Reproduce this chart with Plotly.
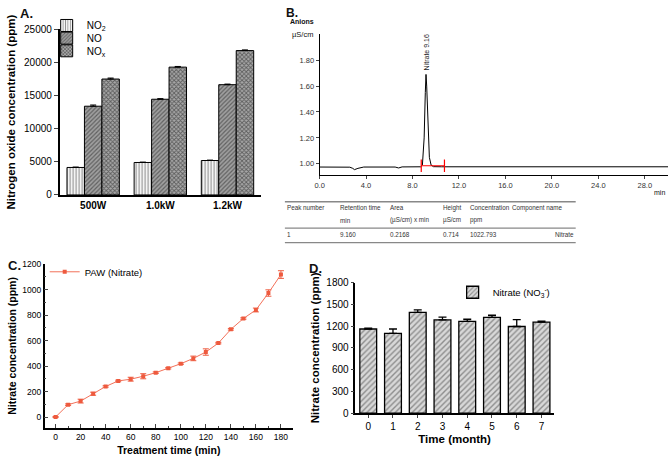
import plotly.graph_objects as go

W, H = 669, 461

# panel A: nitrogen oxides by power
powers = ["500W", "1.0kW", "1.2kW"]
no2 = [4150, 4900, 5200]
no2_err = [60, 60, 60]
no = [13400, 14450, 16650]
no_err = [180, 90, 90]
nox = [17500, 19300, 21800]
nox_err = [150, 100, 100]

# panel B: chromatogram trace
chrom_t = [0, 2.6, 2.85, 3.0, 3.3, 3.8, 6.5, 6.8, 7.1, 8.7, 8.85, 9.0, 9.1, 9.16, 9.22, 9.32, 9.45, 9.6, 9.8, 10.5, 30]
chrom_s = [0.975, 0.974, 0.965, 0.955, 0.965, 0.975, 0.975, 0.968, 0.976, 0.977, 0.99, 1.2, 1.55, 1.69, 1.6, 1.3, 1.05, 0.99, 0.978, 0.977, 0.977]
integ_t = [8.75, 10.75]
integ_s = [0.985, 0.985]
table_header = ["Peak number", "Retention time", "Area", "Height", "Concentration", "Component name"]
table_units = ["", "min", "(µS/cm) x min", "µS/cm", "ppm", ""]
table_row = ["1", "9.160", "0.2168", "0.714", "1022.793", "Nitrate"]

# panel C: nitrate vs treatment time
t_min = [0, 10, 20, 30, 40, 50, 60, 70, 80, 90, 100, 110, 120, 130, 140, 150, 160, 170, 180]
nitrate = [0, 97, 125, 183, 240, 283, 297, 320, 348, 383, 418, 460, 510, 580, 688, 773, 840, 973, 1118]
nitrate_err = [4, 6, 15, 12, 6, 6, 15, 20, 6, 6, 6, 18, 25, 6, 6, 6, 15, 25, 30]

# panel D: nitrate stability
months = [0, 1, 2, 3, 4, 5, 6, 7]
stored = [1160, 1100, 1390, 1285, 1265, 1320, 1195, 1255]
stored_err = [12, 60, 35, 40, 30, 30, 95, 15]


def X(px):
    return px / W


def Y(py):
    return 1 - py / H


fig = go.Figure()

bold = dict(family="Liberation Sans, Arial", color="black")

# ---- A (one legend per series so the rows can sit close together)
for name, vals, err, shape, fg, bg, size, sol, leg in [
    ("NO<sub>2</sub>", no2, no2_err, "|", "#222", "white", 3, 0.4, "legend"),
    ("NO", no, no_err, "/", "#222", "#a0a0a0", 3, 0.4, "legend2"),
    ("NO<sub>x</sub>", nox, nox_err, "x", "#111", "#a8a8a8", 3, 0.5, "legend3"),
]:
    fig.add_trace(go.Bar(
        x=powers, y=vals, name=name, xaxis="x", yaxis="y", legend=leg,
        marker=dict(color=bg, line=dict(color="black", width=1),
                    pattern=dict(shape=shape, fgcolor=fg, bgcolor=bg, size=size, solidity=sol)),
        error_y=dict(type="data", array=err, arrayminus=[0] * len(err), color="black", thickness=1, width=3),
    ))

# ---- B
fig.add_trace(go.Scatter(x=chrom_t, y=chrom_s, mode="lines", line=dict(color="black", width=1),
                         xaxis="x2", yaxis="y2", showlegend=False))
fig.add_trace(go.Scatter(x=integ_t, y=integ_s, mode="lines+markers", line=dict(color="red", width=1.2),
                         marker=dict(symbol="line-ns", size=9, line=dict(color="red", width=1.2)),
                         xaxis="x2", yaxis="y2", showlegend=False))

# ---- C
fig.add_trace(go.Scatter(
    x=t_min, y=nitrate, mode="lines+markers", name="PAW (Nitrate)", xaxis="x3", yaxis="y3", legend="legend4",
    line=dict(color="#f2715a", width=1), marker=dict(color="#ee5a3e", size=4, symbol="square"),
    error_y=dict(type="data", array=nitrate_err, color="#ee5a3e", thickness=1, width=3),
))

# ---- D
fig.add_trace(go.Bar(
    x=months, y=stored, name="Nitrate (NO<sub>3</sub><sup>-</sup>)", xaxis="x4", yaxis="y4", legend="legend5",
    width=0.68,
    marker=dict(color="#d0d0d0", line=dict(color="black", width=1.3),
                pattern=dict(shape="/", fgcolor="#444", bgcolor="#d8d8d8", size=4, solidity=0.35)),
    error_y=dict(type="data", array=stored_err, arrayminus=[0] * 8, color="black", thickness=1.3, width=4),
))

axis_line = dict(showline=True, linecolor="black", linewidth=1.5, mirror=False, showgrid=False, zeroline=False)
leg_a = dict(xanchor="left", yanchor="middle", bgcolor="rgba(0,0,0,0)", font=dict(size=10), itemwidth=30)

fig.update_layout(
    width=W, height=H, margin=dict(l=0, r=0, t=0, b=0),
    paper_bgcolor="white", plot_bgcolor="white",
    font=dict(family="Liberation Sans, Arial", color="black"),
    barmode="group", bargap=0.22, bargroupgap=0,
    xaxis=dict(domain=[X(55), X(258)], anchor="y", range=[-0.5, 2.5], ticks="", **axis_line,
               tickfont=dict(size=10, **bold), tickprefix="<b>", ticksuffix="</b>"),
    yaxis=dict(domain=[Y(194), Y(24)], anchor="x", range=[0, 25000], tickvals=[0, 5000, 10000, 15000, 20000, 25000],
               tickformat="d", ticks="outside", ticklen=4, **axis_line, tickfont=dict(size=10, **bold),
               tickprefix="<b>", ticksuffix="</b>",
               title=dict(text="<b>Nitrogen oxide concentration (ppm)</b>", font=dict(size=11.5), standoff=6)),
    xaxis2=dict(domain=[X(317), X(668)], anchor="y2", range=[0, 30], tickvals=[0, 4, 8, 12, 16, 20, 24, 28],
                tickformat=".1f", ticks="outside", ticklen=3, showline=True, linecolor="black", linewidth=1,
                showgrid=False, zeroline=False, tickfont=dict(size=7.5, color="#333")),
    yaxis2=dict(domain=[Y(174), Y(29)], anchor="x2", range=[0.91, 2.0], tickvals=[1.0, 1.2, 1.4, 1.6, 1.8],
                tickformat=".2f", ticks="outside", ticklen=3, showline=True, linecolor="black", linewidth=1,
                showgrid=False, zeroline=False, tickfont=dict(size=7.5, color="#333")),
    xaxis3=dict(domain=[X(40), X(290)], anchor="y3", range=[-8.7, 189.5], tickvals=list(range(0, 181, 20)),
                ticks="inside", ticklen=4, minor=dict(dtick=10, ticks="inside", ticklen=2, tick0=0),
                **axis_line, tickfont=dict(size=8.5, **bold), tickprefix="<b>", ticksuffix="</b>",
                title=dict(text="<b>Treatment time (min)</b>", font=dict(size=10.5), standoff=6)),
    yaxis3=dict(domain=[Y(433), Y(265)], anchor="x3", range=[-84, 1200], tickvals=list(range(0, 1201, 200)),
                ticks="inside", ticklen=4, minor=dict(dtick=100, ticks="inside", ticklen=2, tick0=0),
                **axis_line, tickfont=dict(size=8.5, **bold), tickprefix="<b>", ticksuffix="</b>",
                title=dict(text="<b>Nitrate concentration (ppm)</b>", font=dict(size=10.5), standoff=4)),
    xaxis4=dict(domain=[X(353), X(553)], anchor="y4", range=[-0.52, 7.5], tickvals=months,
                ticks="outside", ticklen=3, **axis_line, tickfont=dict(size=10, **bold),
                tickprefix="<b>", ticksuffix="</b>",
                title=dict(text="<b>Time (month)</b>", font=dict(size=11.5), standoff=4)),
    yaxis4=dict(domain=[Y(418), Y(284)], anchor="x4", range=[0, 1800], tickvals=list(range(0, 1801, 300)),
                ticks="outside", ticklen=3, **axis_line, tickfont=dict(size=10, **bold),
                tickprefix="<b>", ticksuffix="</b>",
                title=dict(text="<b>Nitrate concentration (ppm)</b>", font=dict(size=11.5), standoff=4)),
    legend=dict(x=X(42), y=Y(20), **leg_a),
    legend2=dict(x=X(42), y=Y(33), **leg_a),
    legend3=dict(x=X(42), y=Y(46), **leg_a),
    legend4=dict(x=X(40), y=Y(258), xanchor="left", yanchor="top", bgcolor="rgba(0,0,0,0)",
                 font=dict(size=9.5)),
    legend5=dict(x=X(451), y=Y(279), xanchor="left", yanchor="top", bgcolor="rgba(0,0,0,0)",
                 font=dict(size=9.5)),
)

ann = [
    dict(text="<b>A.</b>", x=X(13), y=Y(8), size=13),
    dict(text="<b>B.</b>", x=X(281), y=Y(7), size=12),
    dict(text="<b>C.</b>", x=X(1), y=Y(266), size=13),
    dict(text="<b>D.</b>", x=X(304), y=Y(270), size=13),
    dict(text="<b>Anions</b>", x=X(285), y=Y(16), size=7),
    dict(text="µS/cm", x=X(287), y=Y(29), size=7.5),
    dict(text="min", x=X(652), y=Y(191), size=7),
]
for a in ann:
    fig.add_annotation(text=a["text"], x=a["x"], y=a["y"], xref="paper", yref="paper", xanchor="left",
                       yanchor="middle", showarrow=False, font=dict(size=a["size"], color="#111"))

fig.add_annotation(text="Nitrate 9.16", x=9.16, y=1.86, xref="x2", yref="y2", textangle=-90, showarrow=False,
                   font=dict(size=7, color="#222"))

# table under chromatogram
col_x = [282, 336, 386, 439, 466, 509]
for row, ypx in [(table_header, 207), (table_units, 220), (table_row, 235)]:
    for i, txt in enumerate(row):
        if not txt:
            continue
        right = row is table_row and i == 5
        fig.add_annotation(text=txt, x=X(575) if right else X(col_x[i]), y=Y(ypx), xref="paper", yref="paper",
                           xanchor="right" if right else "left", yanchor="middle", showarrow=False,
                           font=dict(size=6.3, color="#333"))
for ypx in [201, 228, 243]:
    fig.add_shape(type="line", x0=X(282), x1=X(575), y0=Y(ypx), y1=Y(ypx), xref="paper", yref="paper",
                  line=dict(color="#888", width=1.3))

fig.write_html("out.html", config={"displayModeBar": False},
               post_script="document.body.style.margin='0';document.body.style.overflow='hidden';")
